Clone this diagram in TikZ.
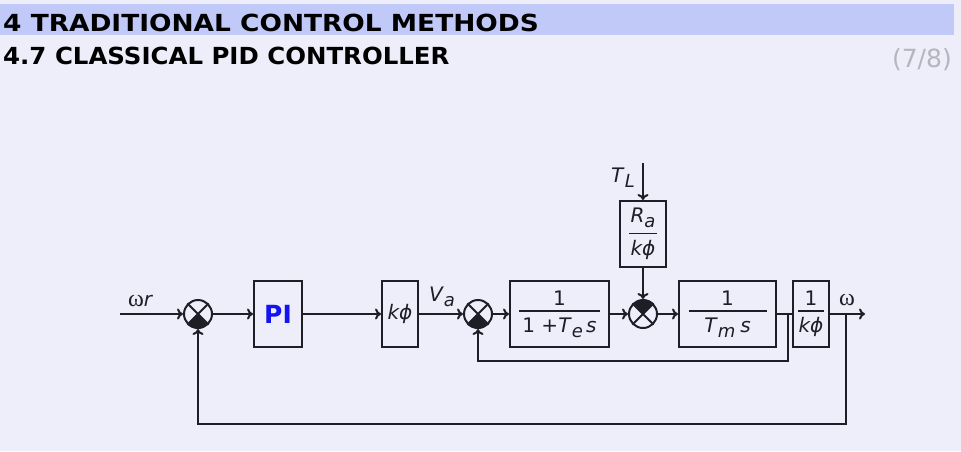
\documentclass[tikz,border=0pt]{standalone}
\usepackage{fontspec}
\setmainfont{DejaVu Sans}
\newfontfamily\grk{Liberation Serif}
\usetikzlibrary{arrows.meta}
\definecolor{bgc}{HTML}{EEEEFB}
\definecolor{barc}{HTML}{C1C9F9}
\definecolor{linec}{HTML}{1E1E26}
\definecolor{pagec}{HTML}{B5B5BE}
\definecolor{pic}{HTML}{1414F0}
\newcommand\sbx[1]{\raisebox{-5pt}{\fontsize{18}{20}\selectfont\itshape #1}}
\newcommand\myfrac[3]{$\vcenter{\hbox to #1{\hfil #2\hfil}\kern5pt\hrule height 1.3pt\kern6pt\hbox to #1{\hfil #3\hfil}}$}
\begin{document}
\begin{tikzpicture}[x=1pt,y=-1pt,
  every node/.style={font=\fontsize{20}{24}\selectfont, text=linec},
  blk/.style={draw=linec, line width=2pt, inner sep=0pt, fill=none},
  sumc/.style={circle, draw=linec, line width=2pt, minimum size=28pt, inner sep=0pt},
  conn/.style={draw=linec, line width=2pt},
  arr/.style={conn, -{To[length=6pt,width=11pt]}},
  lbl/.style={inner sep=0pt}]
\useasboundingbox (0,0) rectangle (961,451);
\fill[bgc] (0,0) rectangle (961,451);
\fill[barc] (0,4) rectangle (954,35);
\node[lbl, anchor=base west, text=black] (t1) at (3,31) {\fontsize{23.5}{28}\selectfont\bfseries\scalebox{1.124}[1]{4 TRADITIONAL CONTROL METHODS}};
\node[lbl, anchor=base west, text=black] (t2) at (3,64) {\fontsize{23.5}{28}\selectfont\bfseries\scalebox{1.04}[1]{4.7 CLASSICAL PID CONTROLLER}};
\node[lbl, anchor=base east, text=pagec] (pg) at (952,67) {\fontsize{25}{30}\selectfont (7/8)};

% blocks
\node[blk, minimum width=48pt, minimum height=66pt] (pi) at (278,314) {\textcolor{pic}{\fontsize{25}{30}\selectfont\bfseries PI}};
\node[blk, minimum width=36pt, minimum height=66pt] (kp) at (400,314) {\itshape k\char"03D5};
\node[blk, minimum width=99pt, minimum height=66pt] (b1) at (559.5,314) {\myfrac{81pt}{1}{1 +\textit{T}\sbx{e}\,\textit{s}}};
\node[blk, minimum width=46pt, minimum height=66pt] (ra) at (643,234) {\myfrac{28pt}{\textit{R}\sbx{a}}{\textit{k\char"03D5}}};
\node[blk, minimum width=97pt, minimum height=66pt] (b2) at (727.5,314) {\myfrac{78pt}{1}{\textit{T}\sbx{m}\kern5pt\textit{s}}};
\node[blk, minimum width=36pt, minimum height=66pt] (b3) at (811,314) {\myfrac{26pt}{1}{\textit{k\char"03D5}}};

% summing junctions
\node[sumc] (s1) at (198,314) {};
\node[sumc] (s2) at (478,314) {};
\node[sumc] (s3) at (643,314) {};
\foreach \s/\a in {s1/225, s2/225, s3/45}{
  \fill[linec] (\s.center) -- (\s.\a) arc[start angle=\a, delta angle=90, radius=14pt] -- cycle;
  \draw[linec, line width=1.8pt] (\s.45) -- (\s.225) (\s.135) -- (\s.315);
}

% coordinates
\coordinate (in) at (120,314);
\coordinate (out) at (865,314);
\coordinate (tl) at (643,163);
\coordinate (j1) at (788,314);
\coordinate (f1) at (788,361);
\coordinate (j2) at (846,314);
\coordinate (f2) at (846,424);

% connectors
\draw[arr] (in) -- (s1.west);
\draw[arr] (s1.east) -- (pi.west);
\draw[arr] (pi.east) -- (kp.west);
\draw[arr] (kp.east) -- (s2.west);
\draw[arr] (s2.east) -- (b1.west);
\draw[arr] (b1.east) -- (s3.west);
\draw[arr] (tl) -- (ra.north);
\draw[arr] (ra.south) -- (s3.north);
\draw[arr] (s3.east) -- (b2.west);
\draw[conn] (b2.east) -- (b3.west);
\draw[arr] (b3.east) -- (out);
\draw[arr] (j1) -- (f1) -| (s2.south);
\draw[arr] (j2) -- (f2) -| (s1.south);

% labels
\node[lbl, anchor=base west] (lwr) at (128,306) {{\fontsize{24}{28}\selectfont\grk\char"03C9}\textit{r}};
\node[lbl, anchor=base] (lva) at (442,301) {\textit{V}\sbx{a}};
\node[lbl, anchor=base] (ltl) at (623,182) {\textit{T}\sbx{L}};
\node[lbl, anchor=base] (lw) at (847,305) {\fontsize{24}{28}\selectfont\grk\char"03C9};
\end{tikzpicture}
\end{document}
